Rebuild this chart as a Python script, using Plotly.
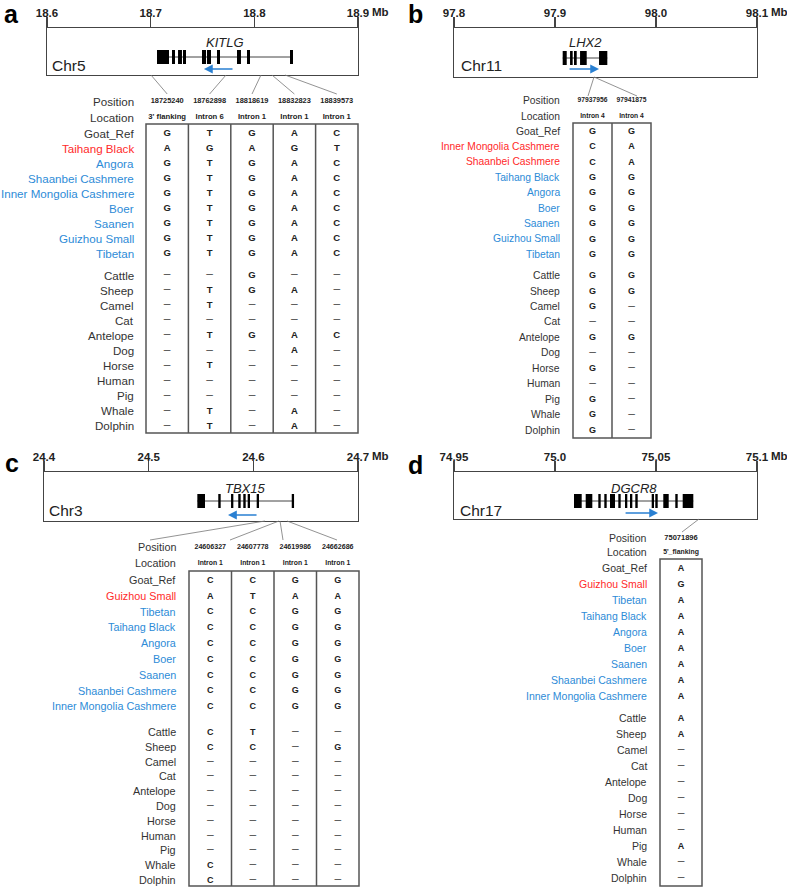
import plotly.graph_objects as go

W, H = 787, 892
FONT = "Arial, 'Liberation Sans', Helvetica, sans-serif"
INK = "#333333"
RED = "#ff2a2a"
BLUE = "#2d8bd7"
ARROW = "#2a80d2"
GRID = "#555555"

# ============================ data ============================
species = ["Cattle", "Sheep", "Camel", "Cat", "Antelope", "Dog", "Horse",
           "Human", "Pig", "Whale", "Dolphin"]

# ---- panel a : KITLG ----
a_chrom = "Chr5"
a_gene = "KITLG"
a_range_mb = [18.6, 18.9]
a_ticks_mb = [18.6, 18.7, 18.8, 18.9]
a_tick_labels = ["18.6", "18.7", "18.8", "18.9"]
a_exon_start_mb = [18.7061, 18.7206, 18.7264, 18.7312, 18.7495, 18.7543, 18.7640, 18.7833, 18.7929, 18.8344]
a_exon_end_mb = [18.7177, 18.7235, 18.7302, 18.7341, 18.7534, 18.7582, 18.7669, 18.7871, 18.7958, 18.8373]
a_arrow_mb = [18.7804, 18.7514]          # tail -> head
a_snp_marker_mb = [18.7003, 18.7727, 18.8064, 18.8170, 18.8296]
a_positions = ["18725240", "18762898", "18818619", "18832823", "18839573"]
a_locations = ["3' flanking", "Intron 6", "Intron 1", "Intron 1", "Intron 1"]
a_breeds = ["Goat_Ref", "Taihang Black", "Angora", "Shaanbei Cashmere",
            "Inner Mongolia Cashmere", "Boer", "Saanen", "Guizhou Small", "Tibetan"]
a_breed_alleles = ["GTGAC", "AGAGT", "GTGAC", "GTGAC", "GTGAC", "GTGAC", "GTGAC", "GTGAC", "GTGAC"]
a_selected = ["Taihang Black"]
a_species_alleles = ["--G--", "-TGA-", "-T---", "-----", "-TGAC", "---A-",
                     "-T---", "-----", "-----", "-T-A-", "-T-A-"]

# ---- panel b : LHX2 ----
b_chrom = "Chr11"
b_gene = "LHX2"
b_range_mb = [97.8, 98.1]
b_ticks_mb = [97.8, 97.9, 98.0, 98.1]
b_tick_labels = ["97.8", "97.9", "98.0", "98.1"]
b_exon_start_mb = [97.9076, 97.9149, 97.9188, 97.9248, 97.9436]
b_exon_end_mb = [97.9116, 97.9175, 97.9215, 97.9314, 97.9518]
b_arrow_mb = [97.9129, 97.9436]
b_snp_marker_mb = [97.9386, 97.9386]
b_positions = ["97937956", "97941875"]
b_locations = ["Intron 4", "Intron 4"]
b_breeds = ["Goat_Ref", "Inner Mongolia Cashmere", "Shaanbei Cashmere", "Taihang Black",
            "Angora", "Boer", "Saanen", "Guizhou Small", "Tibetan"]
b_breed_alleles = ["GG", "CA", "CA", "GG", "GG", "GG", "GG", "GG", "GG"]
b_selected = ["Inner Mongolia Cashmere", "Shaanbei Cashmere"]
b_species_alleles = ["GG", "GG", "G-", "--", "GG", "--", "G-", "--", "G-", "G-", "G-"]

# ---- panel c : TBX15 ----
c_chrom = "Chr3"
c_gene = "TBX15"
c_range_mb = [24.4, 24.7]
c_ticks_mb = [24.4, 24.5, 24.6, 24.7]
c_tick_labels = ["24.4", "24.5", "24.6", "24.7"]
c_exon_start_mb = [24.5465, 24.5665, 24.5787, 24.5856, 24.5904, 24.5946, 24.6032, 24.6367]
c_exon_end_mb = [24.5538, 24.5688, 24.5809, 24.5879, 24.5927, 24.5968, 24.6054, 24.6389]
c_arrow_mb = [24.6045, 24.5758]
c_snp_marker_mb = [24.6111, 24.6245, 24.6255, 24.6322]
c_positions = ["24606327", "24607778", "24619986", "24662686"]
c_locations = ["Intron 1", "Intron 1", "Intron 1", "Intron 1"]
c_breeds = ["Goat_Ref", "Guizhou Small", "Tibetan", "Taihang Black", "Angora", "Boer",
            "Saanen", "Shaanbei Cashmere", "Inner Mongolia Cashmere"]
c_breed_alleles = ["CCGG", "ATAA", "CCGG", "CCGG", "CCGG", "CCGG", "CCGG", "CCGG", "CCGG"]
c_selected = ["Guizhou Small"]
c_species_alleles = ["CT--", "CC-G", "----", "----", "----", "----", "----",
                     "----", "----", "C---", "C---"]

# ---- panel d : DGCR8 ----
d_chrom = "Chr17"
d_gene = "DGCR8"
d_range_mb = [74.95, 75.1]
d_ticks_mb = [74.95, 75.0, 75.05, 75.1]
d_tick_labels = ["74.95", "75.0", "75.05", "75.1"]
d_exon_start_mb = [75.00941, 75.01520, 75.02144, 75.02441, 75.02723, 75.03134, 75.03465,
                   75.03713, 75.03975, 75.04787, 75.04965, 75.05361, 75.05955, 75.06322]
d_exon_end_mb = [75.01322, 75.01847, 75.02262, 75.02559, 75.02970, 75.03252, 75.03579,
                 75.03827, 75.04094, 75.04901, 75.05084, 75.05629, 75.06074, 75.06847]
d_arrow_mb = [75.0342, 75.0510]
d_snp_marker_mb = [75.0713]
d_positions = ["75071896"]
d_locations = ["5'_flanking"]
d_breeds = ["Goat_Ref", "Guizhou Small", "Tibetan", "Taihang Black", "Angora", "Boer",
            "Saanen", "Shaanbei Cashmere", "Inner Mongolia Cashmere"]
d_breed_alleles = ["A", "G", "A", "A", "A", "A", "A", "A", "A"]
d_selected = ["Guizhou Small"]
d_species_alleles = ["A", "A", "-", "-", "-", "-", "-", "-", "A", "-", "-"]

panels = [
    dict(key="a", chrom=a_chrom, gene=a_gene, rng=a_range_mb, ticks=a_ticks_mb, ticklab=a_tick_labels,
         ex0=a_exon_start_mb, ex1=a_exon_end_mb, arrow=a_arrow_mb, marks=a_snp_marker_mb,
         pos=a_positions, loc=a_locations, breeds=a_breeds, balle=a_breed_alleles,
         sel=a_selected, salle=a_species_alleles),
    dict(key="b", chrom=b_chrom, gene=b_gene, rng=b_range_mb, ticks=b_ticks_mb, ticklab=b_tick_labels,
         ex0=b_exon_start_mb, ex1=b_exon_end_mb, arrow=b_arrow_mb, marks=b_snp_marker_mb,
         pos=b_positions, loc=b_locations, breeds=b_breeds, balle=b_breed_alleles,
         sel=b_selected, salle=b_species_alleles),
    dict(key="c", chrom=c_chrom, gene=c_gene, rng=c_range_mb, ticks=c_ticks_mb, ticklab=c_tick_labels,
         ex0=c_exon_start_mb, ex1=c_exon_end_mb, arrow=c_arrow_mb, marks=c_snp_marker_mb,
         pos=c_positions, loc=c_locations, breeds=c_breeds, balle=c_breed_alleles,
         sel=c_selected, salle=c_species_alleles),
    dict(key="d", chrom=d_chrom, gene=d_gene, rng=d_range_mb, ticks=d_ticks_mb, ticklab=d_tick_labels,
         ex0=d_exon_start_mb, ex1=d_exon_end_mb, arrow=d_arrow_mb, marks=d_snp_marker_mb,
         pos=d_positions, loc=d_locations, breeds=d_breeds, balle=d_breed_alleles,
         sel=d_selected, salle=d_species_alleles),
]

# ============================ layout geometry (pixels) ============================
GEOM = {
    "a": dict(letter=(11, 14), box=(47, 358, 28, 75), gene_y=57, gene_lab_y=43, arrow_y=69,
              chr_xy=(50, 65), label_x=136, label_font=11.6, pos_y=101, loc_y=117,
              tbl=(146, 358, 124, 433), row0=133, step1=15.0, row_sp=275.3, step2=15.04,
              pos_font=7.4, loc_font=7.7, cell_font=9.5, conn_y=94, conn_end=None),
    "b": dict(letter=(415, 14), box=(454, 757, 28, 77), gene_y=58, gene_lab_y=43, arrow_y=69,
              chr_xy=(459, 65), label_x=562, label_font=10.3, pos_y=100, loc_y=116,
              tbl=(573, 651, 123, 438), row0=131, step1=15.4, row_sp=275.7, step2=15.43,
              pos_font=6.7, loc_font=6.7, cell_font=9, conn_y=96, conn_end=[588, 637]),
    "c": dict(letter=(12, 463), box=(44, 358, 472, 521), gene_y=501, gene_lab_y=488, arrow_y=515,
              chr_xy=(47, 510), label_x=178, label_font=10.8, pos_y=547, loc_y=563,
              tbl=(189, 359, 571, 886), row0=580, step1=15.8, row_sp=732, step2=14.8,
              pos_font=7.1, loc_font=6.8, cell_font=9, conn_y=540, conn_end=[150, 230, 283, 337]),
    "d": dict(letter=(415, 465), box=(454, 757, 472, 519), gene_y=501, gene_lab_y=488, arrow_y=513,
              chr_xy=(458, 510), label_x=649, label_font=10.5, pos_y=538, loc_y=552,
              tbl=(660, 702, 559, 886), row0=568, step1=16.0, row_sp=718, step2=16.0,
              pos_font=7.5, loc_font=6.9, cell_font=9, conn_y=532, conn_end=[682]),
}

fig = go.Figure()
shapes = []
annotations = []
layout_axes = {}

OV_X, OV_Y = "x5", "y5"

for n, p in enumerate(panels, start=1):
    g = GEOM[p["key"]]
    left, right, top, bottom = g["box"]
    xa, ya = f"x{n}", f"y{n}"
    lo, hi = p["rng"]

    layout_axes[f"xaxis{n}"] = dict(
        domain=[left / W, right / W], range=[lo, hi], anchor=ya, side="top",
        tickvals=p["ticks"], ticktext=[f"<b>{t}</b>" for t in p["ticklab"]],
        ticks="outside", ticklen=10, tickwidth=1.2, tickcolor="#444",
        ticklabelstandoff=-5,
        tickfont=dict(family=FONT, size=11.5, color="#222"),
        showline=True, mirror=True, linecolor="#444", linewidth=1.3,
        showgrid=False, zeroline=False, fixedrange=True)
    layout_axes[f"yaxis{n}"] = dict(
        domain=[1 - bottom / H, 1 - top / H], range=[bottom, top], anchor=xa,
        showline=True, mirror=True, linecolor="#444", linewidth=1.3,
        showticklabels=False, ticks="", showgrid=False, zeroline=False, fixedrange=True)

    # gene body line
    gx0, gx1 = min(p["ex0"]), max(p["ex1"])
    fig.add_trace(go.Scatter(x=[gx0, gx1], y=[g["gene_y"], g["gene_y"]], mode="lines",
                             line=dict(color="#444", width=1), xaxis=xa, yaxis=ya,
                             hoverinfo="skip", showlegend=False))
    for s, e in zip(p["ex0"], p["ex1"]):
        shapes.append(dict(type="rect", xref=xa, yref=ya, x0=s, x1=e,
                           y0=g["gene_y"] - 7, y1=g["gene_y"] + 7,
                           fillcolor="black", line=dict(width=0)))
    # gene name
    annotations.append(dict(xref=xa, yref=ya, x=(gx0 + gx1) / 2, y=g["gene_lab_y"],
                            text=f"<i>{p['gene']}</i>", showarrow=False,
                            font=dict(family=FONT, size=13, color="#222")))
    # strand arrow
    annotations.append(dict(xref=xa, yref=ya, x=p["arrow"][1], y=g["arrow_y"],
                            axref=xa, ayref=ya, ax=p["arrow"][0], ay=g["arrow_y"],
                            text="", showarrow=True, arrowhead=2, arrowsize=1.1,
                            arrowwidth=1.6, arrowcolor=ARROW, standoff=0, startstandoff=0))
    # chromosome name
    annotations.append(dict(xref=OV_X, yref=OV_Y, x=g["chr_xy"][0], y=g["chr_xy"][1],
                            xanchor="left", yanchor="middle", text=p["chrom"], showarrow=False,
                            font=dict(family=FONT, size=15.5, color="#222")))
    # Mb unit
    annotations.append(dict(xref=OV_X, yref=OV_Y, x=right + 12, y=top - 16,
                            xanchor="left", yanchor="middle", text="<b>Mb</b>", showarrow=False,
                            font=dict(family=FONT, size=11.5, color="#222")))
    # panel letter
    annotations.append(dict(xref=OV_X, yref=OV_Y, x=g["letter"][0], y=g["letter"][1],
                            xanchor="center", yanchor="middle", text=f"<b>{p['key']}</b>",
                            showarrow=False, borderpad=0,
                            font=dict(family=FONT, size=25, color="black")))

    # ---------------- table ----------------
    tl, tr, tt, tb = g["tbl"]
    ncol = len(p["pos"])
    cw = (tr - tl) / ncol
    centers = [tl + cw * (i + 0.5) for i in range(ncol)]

    # connector lines from chromosome box to SNP labels
    cx, cy = [], []
    ends = g["conn_end"] if g["conn_end"] else centers
    for m, ex in zip(p["marks"], ends):
        px = left + (m - lo) / (hi - lo) * (right - left)
        cx += [px, ex, None]
        cy += [bottom, g["conn_y"], None]
    fig.add_trace(go.Scatter(x=cx, y=cy, mode="lines", line=dict(color="#777", width=0.8),
                             xaxis=OV_X, yaxis=OV_Y, hoverinfo="skip", showlegend=False))

    # row labels
    lab_x = g["label_x"]
    row_y = [g["row0"] + i * g["step1"] for i in range(len(p["breeds"]))]
    row_y += [g["row_sp"] + i * g["step2"] for i in range(len(species))]
    names = p["breeds"] + species
    colors = []
    for i, nm in enumerate(names):
        if i < len(p["breeds"]):
            if nm == "Goat_Ref":
                colors.append(INK)
            elif nm in p["sel"]:
                colors.append(RED)
            else:
                colors.append(BLUE)
        else:
            colors.append(INK)
    hdr_names = ["Position", "Location"] + names
    hdr_y = [g["pos_y"], g["loc_y"]] + row_y
    hdr_c = [INK, INK] + colors
    for nm, yy, cc in zip(hdr_names, hdr_y, hdr_c):
        annotations.append(dict(xref=OV_X, yref=OV_Y, x=lab_x, y=yy, xanchor="right",
                                yanchor="middle", text=nm, showarrow=False,
                                font=dict(family=FONT, size=g["label_font"], color=cc)))

    # position & location values
    fig.add_trace(go.Scatter(x=centers, y=[g["pos_y"]] * ncol, text=p["pos"], mode="text",
                             textposition="middle center",
                             textfont=dict(family=FONT, size=g["pos_font"], color="#222", weight="bold"),
                             xaxis=OV_X, yaxis=OV_Y, hoverinfo="skip", showlegend=False))
    fig.add_trace(go.Scatter(x=centers, y=[g["loc_y"]] * ncol, text=p["loc"], mode="text",
                             textposition="middle center",
                             textfont=dict(family=FONT, size=g["loc_font"], color="#222", weight="bold"),
                             xaxis=OV_X, yaxis=OV_Y, hoverinfo="skip", showlegend=False))

    # cells
    alleles = p["balle"] + p["salle"]
    lx, ly, lt, dx, dy = [], [], [], [], []
    for yy, row in zip(row_y, alleles):
        for ci, ch in enumerate(row):
            if ch == "-":
                dx.append(centers[ci]); dy.append(yy)
            else:
                lx.append(centers[ci]); ly.append(yy + 0.5); lt.append(ch)
    fig.add_trace(go.Scatter(x=lx, y=ly, text=lt, mode="text", textposition="middle center",
                             textfont=dict(family=FONT, size=g["cell_font"], color="#222", weight="bold"),
                             xaxis=OV_X, yaxis=OV_Y, hoverinfo="skip", showlegend=False))
    fig.add_trace(go.Scatter(x=dx, y=dy, text=["\u2013"] * len(dx), mode="text",
                             textposition="middle center",
                             textfont=dict(family=FONT, size=12, color="#555"),
                             xaxis=OV_X, yaxis=OV_Y, hoverinfo="skip", showlegend=False))

    # table borders
    shapes.append(dict(type="rect", xref=OV_X, yref=OV_Y, x0=tl, x1=tr, y0=tt, y1=tb,
                       line=dict(color=GRID, width=1.5), fillcolor="rgba(0,0,0,0)"))
    for ci in range(1, ncol):
        xx = tl + cw * ci
        shapes.append(dict(type="line", xref=OV_X, yref=OV_Y, x0=xx, x1=xx, y0=tt, y1=tb,
                           line=dict(color=GRID, width=1.5)))

layout_axes["xaxis5"] = dict(domain=[0, 1], range=[0, W], anchor="y5", visible=False, fixedrange=True)
layout_axes["yaxis5"] = dict(domain=[0, 1], range=[H, 0], anchor="x5", visible=False, fixedrange=True)

fig.update_layout(
    width=W, height=H, margin=dict(l=0, r=0, t=0, b=0, autoexpand=False),
    paper_bgcolor="white", plot_bgcolor="rgba(0,0,0,0)",
    showlegend=False, shapes=shapes, annotations=annotations,
    font=dict(family=FONT, color=INK),
    **layout_axes,
)

fig.write_html("out.html", config={"displayModeBar": False, "staticPlot": True},
               post_script="document.body.style.margin='0px';document.body.style.overflow='hidden';")
